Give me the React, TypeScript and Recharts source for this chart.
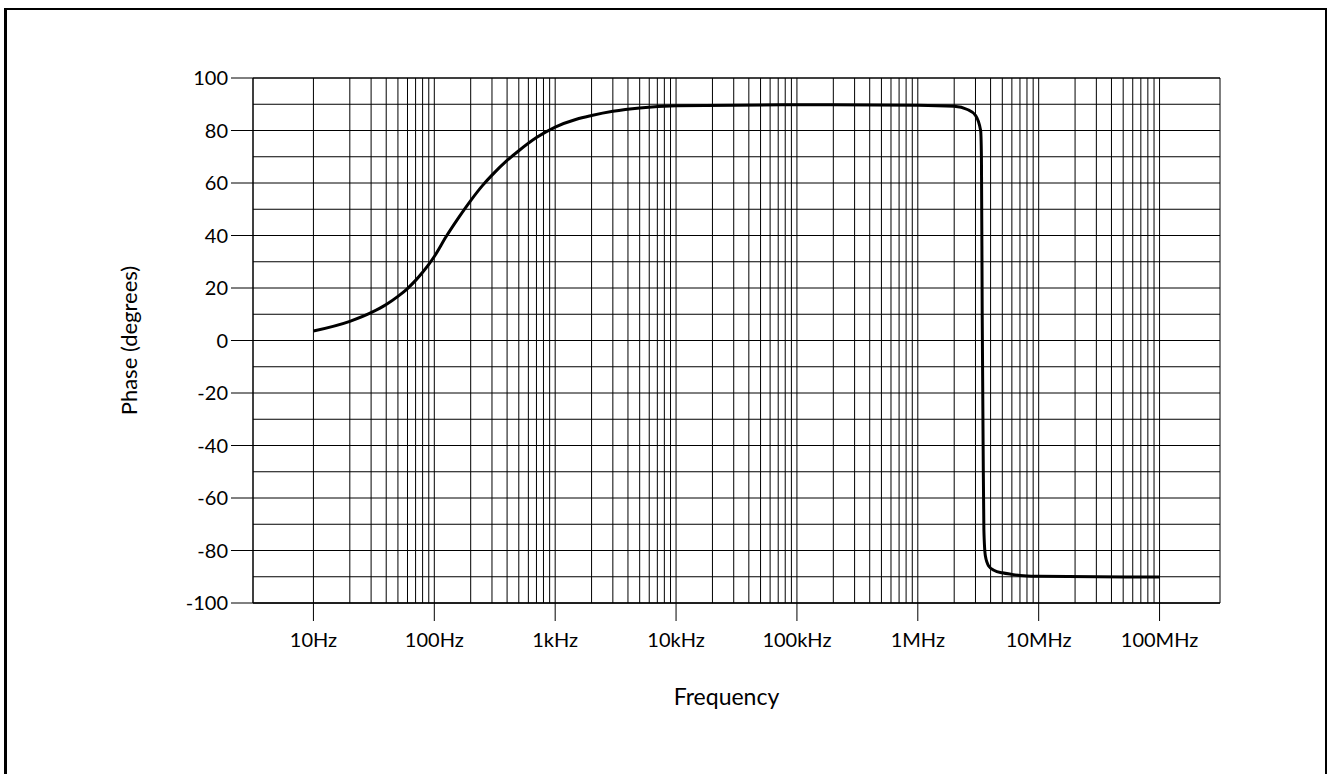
import React from "react";
import {
  LineChart,
  Line,
  XAxis,
  YAxis,
  CartesianGrid,
  ReferenceArea,
  Label,
} from "recharts";

// Frequency (Hz)
const frequencies = [
  10, 20, 30, 40, 50, 60, 70, 80, 90, 100, 125, 160, 200, 250, 300, 400, 500,
  700, 1000, 1500, 2000, 3000, 5000, 1e4, 1e5, 1e6, 2e6, 2.57e6, 3e6, 3.31e6,
  3.36e6, 3.41e6, 3.47e6, 3.52e6, 3.62e6, 3.87e6, 4.3e6, 5e6, 6e6, 7e6, 8e6,
  1e7, 1e8,
];
// Phase (degrees)
const phases = [
  3.6, 7.3, 10.6, 13.7, 16.8, 19.8, 22.9, 26.0, 29.0, 32.0, 39.5, 47.0, 53.3,
  59.0, 63.0, 68.6, 72.3, 77.3, 81.3, 84.3, 85.7, 87.3, 88.6, 89.4, 89.8,
  89.6, 89.2, 88.0, 85.8, 80, 70, 10, -40, -72, -82, -86, -87.6, -88.5,
  -89.1, -89.5, -89.7, -89.8, -90.1,
];

const decadeTicks = [10, 100, 1e3, 1e4, 1e5, 1e6, 1e7, 1e8];
const decadeLabels = ["10Hz", "100Hz", "1kHz", "10kHz", "100kHz", "1MHz", "10MHz", "100MHz"];
const gridDecades = [10, 100, 1e3, 1e4, 1e5, 1e6, 1e7];
const gridMultipliers = [1, 2, 3, 4, 5, 6, 7, 8, 9];
const xDomain = [3.1623, 3.1623e8];

const yTicks = [-100, -80, -60, -40, -20, 0, 20, 40, 60, 80, 100];
const yGrid = [-100, -90, -80, -70, -60, -50, -40, -30, -20, -10, 0, 10, 20, 30, 40, 50, 60, 70, 80, 90, 100];

const data = frequencies.map((f, i) => ({ f, phase: phases[i] }));
const vGrid = [
  ...gridDecades.flatMap((d) => gridMultipliers.map((m) => m * d)),
  1e8,
];

const FONT = "Lato, 'Noto Sans', sans-serif";

export default function App() {
  return (
    <div
      style={{
        position: "absolute",
        left: 4,
        top: 8,
        width: 1318,
        height: 764,
        borderLeft: "3px solid #000",
        borderTop: "2px solid #000",
        borderRight: "2px solid #000",
        background: "#fff",
        fontFamily: FONT,
      }}
    >
      <LineChart
        width={1318}
        height={764}
        data={data}
        margin={{ top: 68, right: 105, left: 0, bottom: 0 }}
      >
        <CartesianGrid
          stroke="#000"
          strokeWidth={1}
          horizontalValues={yGrid}
          verticalValues={vGrid}
        />
        <XAxis
          dataKey="f"
          type="number"
          scale="log"
          domain={xDomain}
          allowDataOverflow
          ticks={decadeTicks}
          tickFormatter={(v) => decadeLabels[decadeTicks.indexOf(v)] ?? ""}
          height={171}
          tickSize={18}
          tickMargin={12}
          stroke="#000"
          tick={{ fill: "#000", fontSize: 20, fontFamily: FONT }}
          interval={0}
        >
          <Label
            value="Frequency"
            position="insideTop"
            offset={86}
            dx={-10}
            style={{ fill: "#000", fontSize: 23, fontFamily: FONT }}
          />
        </XAxis>
        <YAxis
          type="number"
          domain={[-100, 100]}
          ticks={yTicks}
          width={246}
          tickSize={22}
          tickMargin={3}
          stroke="#000"
          interval={0}
          tick={{ fill: "#000", fontSize: 20, fontFamily: FONT }}
        >
          <Label
            content={(props: any) => {
              const vb = props.viewBox || {};
              const cx = (vb.x ?? 0) + 121;
              const cy = (vb.y ?? 0) + (vb.height ?? 0) / 2;
              return (
                <text
                  x={cx}
                  y={cy}
                  transform={`rotate(-90, ${cx}, ${cy})`}
                  textAnchor="middle"
                  dominantBaseline="central"
                  style={{ fill: "#000", fontSize: 22, fontFamily: FONT }}
                >
                  Phase (degrees)
                </text>
              );
            }}
          />
        </YAxis>
        <ReferenceArea
          x1={xDomain[0]}
          x2={xDomain[1]}
          y1={-100}
          y2={100}
          fill="none"
          stroke="#000"
          strokeWidth={1}
          ifOverflow="visible"
        />
        <Line
          dataKey="phase"
          type="monotone"
          stroke="#000"
          strokeWidth={3}
          dot={false}
          isAnimationActive={false}
        />
      </LineChart>
    </div>
  );
}
